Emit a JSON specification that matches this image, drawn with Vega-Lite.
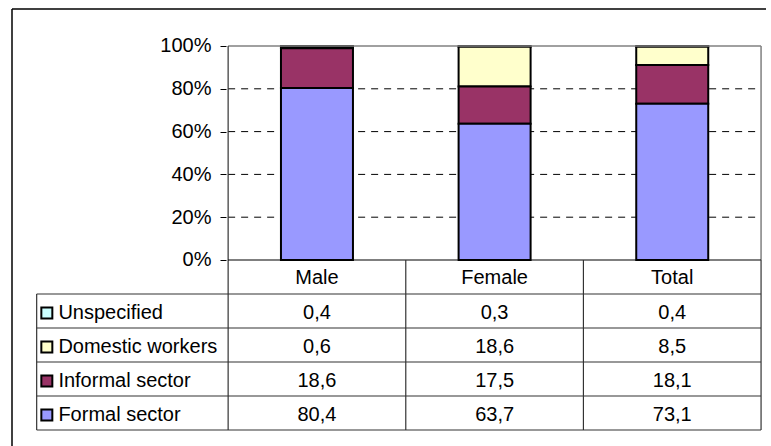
{
  "$schema": "https://vega.github.io/schema/vega-lite/v6.json",
  "autosize": "none",
  "padding": {"left": 7, "top": 9, "right": 0, "bottom": 0},
  "width": 764,
  "height": 437,
  "background": "white",
  "config": {
    "view": {"stroke": null},
    "font": "Liberation Sans",
    "locale": {"number": {"decimal": ",", "thousands": ".", "grouping": [3], "currency": ["", " €"]}}
  },
  "datasets": {
    "main": [
      {"group": "Male", "category": "Unspecified", "value": 0.4},
      {"group": "Male", "category": "Domestic workers", "value": 0.6},
      {"group": "Male", "category": "Informal sector", "value": 18.6},
      {"group": "Male", "category": "Formal sector", "value": 80.4},
      {"group": "Female", "category": "Unspecified", "value": 0.3},
      {"group": "Female", "category": "Domestic workers", "value": 18.6},
      {"group": "Female", "category": "Informal sector", "value": 17.5},
      {"group": "Female", "category": "Formal sector", "value": 63.7},
      {"group": "Total", "category": "Unspecified", "value": 0.4},
      {"group": "Total", "category": "Domestic workers", "value": 8.5},
      {"group": "Total", "category": "Informal sector", "value": 18.1},
      {"group": "Total", "category": "Formal sector", "value": 73.1}
    ],
    "groups": [
      {"group": "Male", "col": 0},
      {"group": "Female", "col": 1},
      {"group": "Total", "col": 2}
    ],
    "cats": [
      {"category": "Unspecified", "row": 1},
      {"category": "Domestic workers", "row": 2},
      {"category": "Informal sector", "row": 3},
      {"category": "Formal sector", "row": 4}
    ],
    "grid": [{"v": 0.2}, {"v": 0.4}, {"v": 0.6}, {"v": 0.8}]
  },
  "encoding": {
    "x": {"type": "quantitative", "scale": {"domain": [-1.7167, 2.5278], "nice": false, "zero": false}, "axis": null},
    "y": {"type": "quantitative", "scale": {"domain": [-0.8692, 1.1729], "nice": false, "zero": false},
          "axis": {"values": [0, 0.2, 0.4, 0.6, 0.8, 1], "format": ".0%", "offset": -219, "domain": false, "grid": false,
                   "ticks": true, "tickSize": 6, "tickColor": "#000000", "tickWidth": 1, "labelFontSize": 20, "labelColor": "#000000",
                   "labelPadding": 9, "title": null, "labelFont": "Liberation Sans"}}
  },
  "layer": [
    {
      "data": {"values": [{}]},
      "mark": {"type": "rule", "color": "#000000", "strokeWidth": 1.5},
      "encoding": {"x": {"datum": -1.7167}, "x2": {"datum": 2.5278}, "y": {"datum": 1.1729}}
    },
    {
      "data": {"values": [{}]},
      "mark": {"type": "rule", "color": "#000000", "strokeWidth": 1.5},
      "encoding": {"x": {"datum": -1.7167}, "y": {"datum": -0.8692}, "y2": {"datum": 1.1729}}
    },
    {
      "data": {"name": "grid"},
      "mark": {"type": "rule", "color": "#000000", "strokeWidth": 1, "strokeDash": [7, 6]},
      "encoding": {"x": {"datum": -0.5}, "x2": {"datum": 2.5}, "y": {"field": "v"}}
    },
    {
      "data": {"name": "main"},
      "transform": [
        {"lookup": "group", "from": {"data": {"name": "groups"}, "key": "group", "fields": ["col"]}},
        {"lookup": "category", "from": {"data": {"name": "cats"}, "key": "category", "fields": ["row"]}}
      ],
      "mark": {"type": "bar", "orient": "vertical", "width": 72, "stroke": "#000000", "strokeWidth": 2},
      "encoding": {
        "x": {"field": "col", "type": "quantitative"},
        "y": {"field": "value", "type": "quantitative", "stack": "normalize"},
        "color": {"field": "category", "type": "nominal",
                  "scale": {"domain": ["Unspecified", "Domestic workers", "Informal sector", "Formal sector"], "range": ["#CCFFFF", "#FFFFCC", "#993366", "#9999FF"]},
                  "legend": null},
        "order": {"field": "row", "type": "quantitative", "sort": "descending"}
      }
    },
    {
      "data": {"values": [{}]},
      "mark": {"type": "rule", "color": "#808080", "strokeWidth": 1.5},
      "encoding": {"x": {"datum": -0.5}, "x2": {"datum": 2.5}, "y": {"datum": 1}}
    },
    {
      "data": {"values": [{}]},
      "mark": {"type": "rule", "color": "#808080", "strokeWidth": 1.5},
      "encoding": {"x": {"datum": 2.5}, "y": {"datum": 0}, "y2": {"datum": 1}}
    },
    {
      "data": {"values": [{}]},
      "mark": {"type": "rule", "color": "#333333", "strokeWidth": 1.2},
      "encoding": {"x": {"datum": -0.5}, "y": {"datum": -0.7945}, "y2": {"datum": 1}}
    },
    {
      "data": {"values": [{}]},
      "mark": {"type": "rule", "color": "#000000", "strokeWidth": 1.2},
      "encoding": {"x": {"datum": -0.5}, "x2": {"datum": 2.5}, "y": {"datum": 0}}
    },
    {
      "data": {"values": [{}]},
      "mark": {"type": "rule", "color": "#333333", "strokeWidth": 1.2},
      "encoding": {"x": {"datum": -1.5778}, "y": {"datum": -0.7945}, "y2": {"datum": -0.1589}}
    },
    {
      "data": {"values": [{}]},
      "mark": {"type": "rule", "color": "#333333", "strokeWidth": 1.2},
      "encoding": {"x": {"datum": -1.5778}, "x2": {"datum": 2.5}, "y": {"datum": -0.1589}}
    },
    {
      "data": {"name": "groups"},
      "transform": [{"calculate": "datum.col + 0.5", "as": "xs"}],
      "mark": {"type": "rule", "color": "#333333", "strokeWidth": 1.2},
      "encoding": {"x": {"field": "xs"}, "y": {"datum": -0.7945}, "y2": {"datum": 0}}
    },
    {
      "data": {"name": "cats"},
      "transform": [{"calculate": "-(datum.row + 1) * 0.1589", "as": "ys"}],
      "mark": {"type": "rule", "color": "#333333", "strokeWidth": 1.2},
      "encoding": {"x": {"datum": -1.5778}, "x2": {"datum": 2.5}, "y": {"field": "ys"}}
    },
    {
      "data": {"name": "groups"},
      "mark": {"type": "text", "fontSize": 20, "color": "#000000", "align": "center", "baseline": "middle", "dy": 1},
      "encoding": {"x": {"field": "col"}, "y": {"datum": -0.0794}, "text": {"field": "group"}}
    },
    {
      "data": {"name": "main"},
      "transform": [
        {"lookup": "group", "from": {"data": {"name": "groups"}, "key": "group", "fields": ["col"]}},
        {"lookup": "category", "from": {"data": {"name": "cats"}, "key": "category", "fields": ["row"]}},
        {"calculate": "-(datum.row + 0.5) * 0.1589", "as": "ty"}
      ],
      "mark": {"type": "text", "fontSize": 20, "color": "#000000", "align": "center", "baseline": "middle", "dy": 2},
      "encoding": {"x": {"field": "col"}, "y": {"field": "ty"}, "text": {"field": "value", "type": "quantitative", "format": ".1f"}}
    },
    {
      "data": {"name": "cats"},
      "transform": [{"calculate": "-(datum.row + 0.5) * 0.1589 - 0.009", "as": "ty"}],
      "mark": {"type": "point", "shape": "square", "filled": true, "size": 121, "stroke": "#000000", "strokeWidth": 2, "opacity": 1},
      "encoding": {
        "x": {"datum": -1.5206}, "y": {"field": "ty"},
        "fill": {"field": "category", "type": "nominal",
                 "scale": {"domain": ["Unspecified", "Domestic workers", "Informal sector", "Formal sector"], "range": ["#CCFFFF", "#FFFFCC", "#993366", "#9999FF"]},
                 "legend": null}
      }
    },
    {
      "data": {"name": "cats"},
      "transform": [{"calculate": "-(datum.row + 0.5) * 0.1589", "as": "ty"}],
      "mark": {"type": "text", "fontSize": 20, "color": "#000000", "align": "left", "baseline": "middle", "dy": 2},
      "encoding": {"x": {"datum": -1.4556}, "y": {"field": "ty"}, "text": {"field": "category"}}
    }
  ]
}
